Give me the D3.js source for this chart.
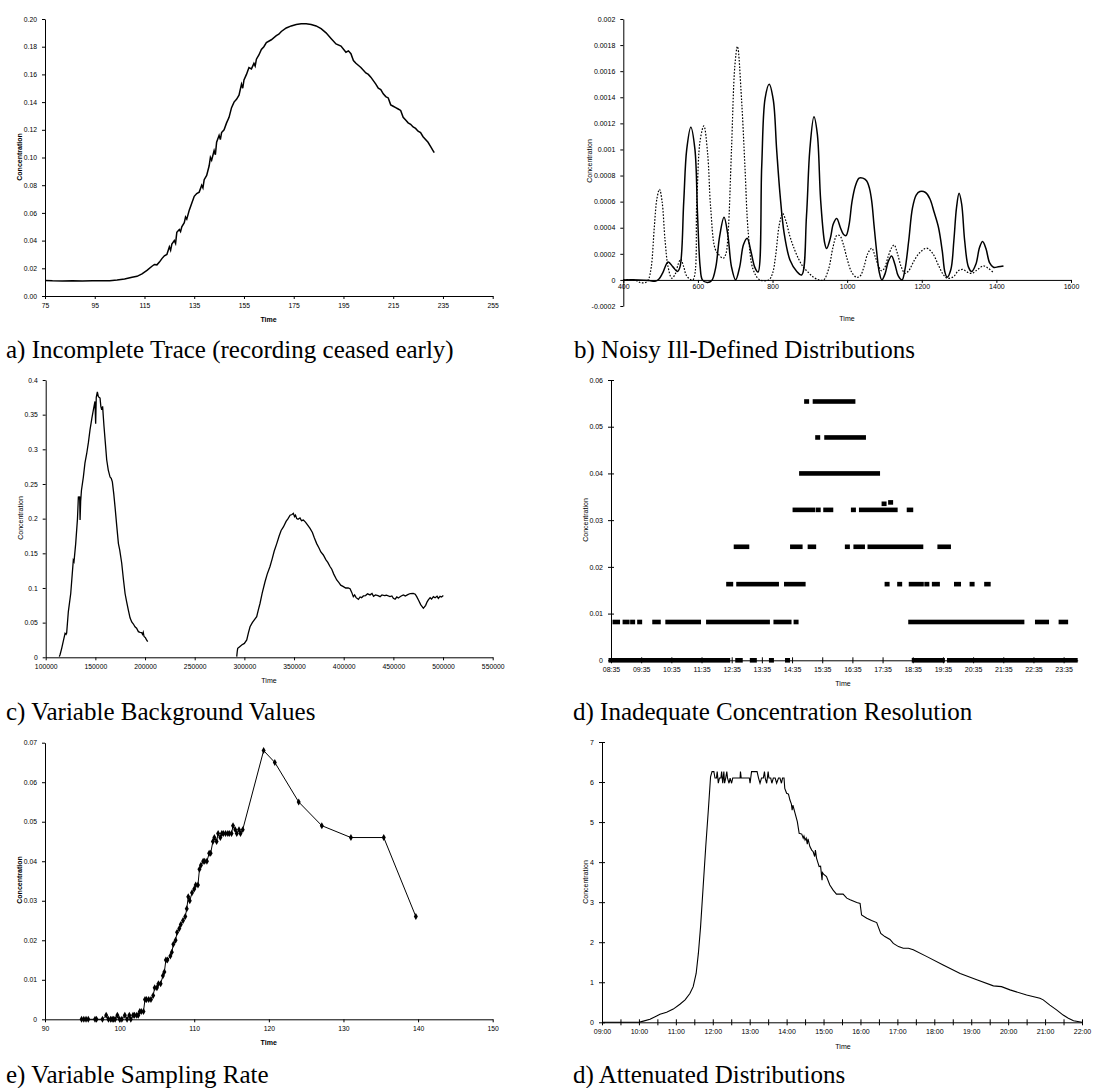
<!DOCTYPE html>
<html><head><meta charset="utf-8">
<script src="https://cdn.jsdelivr.net/npm/d3@7"></script>
<style>body{margin:0;background:#fff}svg{display:block}</style>
</head><body><script>
// ---------- DATA ----------
const captions = ["a) Incomplete Trace (recording ceased early)","b) Noisy Ill-Defined Distributions","c) Variable Background Values","d) Inadequate Concentration Resolution","e) Variable Sampling Rate","d) Attenuated Distributions"];

// a) Incomplete trace
const aTicksX = [75,95,115,135,155,175,195,215,235,255];
const aTicksY = [0,0.02,0.04,0.06,0.08,0.10,0.12,0.14,0.16,0.18,0.20];
const aData = [[75,0.0112],[78,0.0110],[82,0.0109],[86,0.0110],[90,0.0109],[94,0.0110],[98,0.0111],[101,0.0111],[104,0.0115],[107,0.0122],[110,0.0135],[112,0.0142],[114,0.0160],[116,0.0185],[118,0.0215],[119,0.0228],[120,0.0225],[121,0.0245],[122,0.0270],[123,0.0290],[124,0.0300],[125,0.0355],[125.5,0.0330],[126,0.0375],[127,0.0400],[127.5,0.0380],[128,0.0460],[129,0.0480],[129.5,0.0465],[130,0.0500],[131,0.0530],[131.5,0.0570],[132,0.0555],[133,0.0620],[134,0.0670],[135,0.0720],[136,0.0740],[137,0.0750],[138,0.0800],[138.5,0.0780],[139,0.0840],[140,0.0870],[141,0.0940],[141.5,0.1000],[142,0.0980],[143,0.1050],[143.5,0.1020],[144,0.1110],[145,0.1160],[145.5,0.1130],[146,0.1180],[147,0.1200],[148,0.1250],[149,0.1290],[150,0.1360],[151,0.1400],[152,0.1420],[153,0.1450],[154,0.1530],[154.5,0.1500],[155,0.1560],[156,0.1600],[157,0.1650],[158,0.1640],[159,0.1680],[159.5,0.1660],[160,0.1710],[161,0.1740],[162,0.1780],[163,0.1800],[164,0.1830],[166,0.1850],[168,0.1880],[169,0.1890],[170,0.1910],[172,0.1935],[174,0.1950],[176,0.1960],[178,0.1965],[180,0.1965],[182,0.1960],[184,0.1950],[186,0.1930],[188,0.1900],[190,0.1860],[192,0.1820],[194,0.1805],[196,0.1760],[197,0.1770],[198,0.1750],[199,0.1700],[200,0.1680],[202,0.1650],[204,0.1610],[205,0.1600],[206,0.1580],[208,0.1530],[209,0.1500],[210,0.1490],[211,0.1460],[212,0.1440],[213,0.1430],[214,0.1380],[215,0.1370],[216,0.1360],[217,0.1350],[218,0.1340],[219,0.1290],[220,0.1270],[221,0.1250],[222,0.1240],[223,0.1220],[224,0.1210],[225,0.1190],[226,0.1180],[227,0.1150],[228,0.1130],[229,0.1110],[230,0.1080],[231,0.1050],[231.5,0.1035]];

// b) Noisy ill-defined distributions
const bTicksX = [400,600,800,1000,1200,1400,1600];
const bTicksY = [-0.0002,0,0.0002,0.0004,0.0006,0.0008,0.001,0.0012,0.0014,0.0016,0.0018,0.002];
const bSolid = [[400,0],[440,0],[470,-0.000005],[485,-0.00001],[495,0.000005],[505,0.00005],[520,0.000138],[533,0.0001],[545,0.000064],[552,0.0001],[562,0.0006],[570,0.001],[581,0.00117],[592,0.001],[599,0.0005],[606,0.0001],[612,0],[625,-0.00002],[637,-0.000005],[648,0.0001],[658,0.00033],[670,0.00048],[680,0.00035],[690,0.0001],[701,0],[712,0.0001],[722,0.00027],[732,0.00032],[742,0.00022],[752,0.0001],[761,0.00006],[771,0.00087],[780,0.00139],[791,0.0015],[802,0.00138],[811,0.001],[820,0.00066],[831,0.00036],[847,0.00015],[865,0.000064],[878,0.000038],[891,0.00049],[900,0.001],[911,0.00125],[920,0.00112],[929,0.00061],[940,0.00028],[945,0.00024],[955,0.00032],[963,0.00043],[972,0.00047],[982,0.0004],[990,0.00035],[997,0.00034],[1005,0.00042],[1013,0.0006],[1022,0.00072],[1032,0.00078],[1042,0.00078],[1052,0.00076],[1060,0.0007],[1066,0.0006],[1072,0.00042],[1079,0.00022],[1086,0.00006],[1093,0],[1102,0.00005],[1110,0.00014],[1119,0.000184],[1128,0.00012],[1137,0.00003],[1147,0],[1155,0.00008],[1165,0.0003],[1175,0.00055],[1185,0.00065],[1195,0.000677],[1210,0.00067],[1222,0.00062],[1233,0.00052],[1245,0.0004],[1255,0.00022],[1262,0.00006],[1268,0.00002],[1278,0.00008],[1286,0.0003],[1293,0.00055],[1300,0.000664],[1307,0.00058],[1315,0.0003],[1325,0.0001],[1334,0.000064],[1345,0.00012],[1355,0.00025],[1363,0.000294],[1372,0.00024],[1382,0.00013],[1392,0.000097],[1405,0.0001],[1419,0.000107]];
const bDotted = [[400,0],[430,0],[445,-0.00002],[460,-0.00002],[467,0],[475,0.0001],[483,0.0004],[490,0.00062],[497,0.000695],[504,0.0006],[512,0.0003],[520,0.0001],[530,0.000013],[540,0.00005],[547,0.00012],[554,0.000158],[562,0.0001],[570,0.00003],[586,0],[597,0.00061],[606,0.00107],[616,0.00118],[626,0.00097],[634,0.00056],[646,0.00024],[657,0.00019],[668,0.000166],[675,0.0002],[681,0.00036],[690,0.001],[699,0.00164],[706,0.00179],[717,0.00138],[726,0.00087],[735,0.00036],[748,0.00008],[766,0],[790,0],[800,0.00005],[808,0.00018],[818,0.00042],[827,0.00051],[836,0.00045],[846,0.00034],[856,0.000255],[870,0.00016],[882,0.0001],[895,0.00006],[910,0.00002],[925,0],[937,0],[950,0.00008],[962,0.00025],[972,0.00034],[980,0.00034],[990,0.00027],[1000,0.00016],[1012,0.00006],[1025,0.00002],[1035,0.00003],[1045,0.0001],[1055,0.0002],[1066,0.000243],[1075,0.00018],[1085,0.0001],[1092,0.00007],[1100,0.00009],[1110,0.00018],[1120,0.00025],[1126,0.000268],[1135,0.0002],[1145,0.0001],[1155,0.00005],[1165,0.00007],[1180,0.00015],[1195,0.00021],[1213,0.000243],[1230,0.0002],[1245,0.00011],[1258,0.00004],[1268,0.000013],[1285,0.000025],[1298,0.00007],[1310,0.00008],[1322,0.00006],[1334,0.00005],[1350,0.00008],[1365,0.000107],[1378,0.00009],[1392,0.000056]];

// c) Variable background values
const cTicksX = [100000,150000,200000,250000,300000,350000,400000,450000,500000,550000];
const cTicksY = [0,0.05,0.1,0.15,0.2,0.25,0.3,0.35,0.4];
const cTrace1 = [[113700,0.001],[114500,0.004],[116100,0.013],[118000,0.025],[119500,0.0346],[120500,0.033],[121100,0.035],[122800,0.066],[125200,0.092],[127800,0.14],[128500,0.138],[130200,0.164],[132000,0.2],[132900,0.232],[133600,0.228],[134200,0.232],[134600,0.198],[135200,0.225],[136000,0.241],[137900,0.26],[139500,0.28],[141300,0.294],[143000,0.31],[144600,0.328],[146500,0.345],[148000,0.357],[149600,0.369],[150300,0.337],[150900,0.375],[152000,0.383],[153000,0.376],[154700,0.374],[155500,0.362],[156400,0.357],[157300,0.362],[158000,0.347],[158700,0.333],[160000,0.31],[161400,0.285],[163000,0.27],[164800,0.26],[166000,0.258],[167100,0.253],[168500,0.236],[169800,0.217],[171500,0.19],[173200,0.164],[174500,0.155],[176500,0.136],[178200,0.113],[179900,0.092],[181500,0.08],[183200,0.068],[184900,0.057],[186600,0.051],[188300,0.048],[189900,0.044],[191500,0.042],[193300,0.037],[195000,0.036],[196600,0.0356],[197500,0.033],[198200,0.036],[199000,0.030],[200500,0.028],[201500,0.025],[202700,0.0226]];
const cTrace2 = [[292300,0.001],[292800,0.008],[293300,0.013],[295000,0.015],[297300,0.0178],[300000,0.02],[302400,0.025],[304000,0.035],[305700,0.044],[308000,0.05],[310000,0.054],[312400,0.0587],[314000,0.068],[315800,0.078],[318000,0.093],[320800,0.109],[323000,0.12],[325800,0.131],[328000,0.142],[330000,0.153],[332600,0.164],[335000,0.175],[337000,0.183],[339300,0.188],[342000,0.196],[344000,0.2],[346000,0.205],[348000,0.206],[349300,0.2077],[350500,0.203],[351500,0.205],[352700,0.2],[354000,0.199],[356000,0.201],[357500,0.197],[359400,0.198],[361500,0.195],[363000,0.192],[366100,0.186],[368500,0.18],[370500,0.172],[372800,0.164],[375000,0.158],[377000,0.152],[379500,0.1476],[382000,0.141],[384000,0.137],[386200,0.131],[388000,0.127],[390000,0.12],[393000,0.1115],[395000,0.108],[397000,0.104],[399700,0.102],[402000,0.1],[404500,0.1],[406400,0.099],[408000,0.094],[409700,0.0875],[411000,0.09],[412500,0.086],[414800,0.0837],[416500,0.087],[418000,0.086],[419800,0.0885],[422000,0.089],[424000,0.0915],[426500,0.09],[428500,0.092],[430000,0.088],[432000,0.09],[434500,0.089],[436600,0.0875],[438500,0.09],[441000,0.089],[443000,0.0895],[446600,0.0875],[448500,0.0885],[450000,0.085],[451700,0.0837],[453500,0.087],[455000,0.0855],[457500,0.088],[460000,0.09],[462000,0.0885],[464500,0.0905],[467000,0.092],[470000,0.0923],[472000,0.091],[473500,0.0875],[475500,0.082],[477500,0.076],[480200,0.0707],[482500,0.075],[484000,0.08],[485200,0.0827],[487000,0.086],[488500,0.084],[490300,0.0875],[492000,0.086],[494000,0.088],[495300,0.085],[497000,0.088],[498500,0.087],[500300,0.089]];

// d) Inadequate concentration resolution: runs of consecutive samples [first, last, level]
const dTickLabels = ["08:35","09:35","10:35","11:35","12:35","13:35","14:35","15:35","16:35","17:35","18:35","19:35","20:35","21:35","22:35","23:35"];
const dTicksY = [0,0.01,0.02,0.03,0.04,0.05,0.06];
const dAxisEnd = "24:03";
const dRuns = [
["08:35","12:27",0],["12:47","12:52",0],["13:16","13:20",0],["13:54","13:54",0],["14:26","14:26",0],["18:38","19:34",0],["19:48","23:58",0],
["08:43","08:48",0.0082],["09:03","09:07",0.0082],["09:18","09:18",0.0082],["09:32","09:32",0.0082],["10:02","10:09",0.0082],["10:28","11:29",0.0082],["11:49","13:46",0.0082],["14:03","14:29",0.0082],["14:43","14:43",0.0082],["18:31","22:12",0.0082],["22:43","23:01",0.0082],["23:30","23:39",0.0082],
["12:29","12:33",0.0163],["12:49","14:04",0.0163],["14:24","14:57",0.0163],["17:44","17:44",0.0163],["18:09","18:09",0.0163],["18:32","18:52",0.0163],["19:03","19:03",0.0163],["19:18","19:24",0.0163],["20:02","20:06",0.0163],["20:33","20:33",0.0163],["21:02","21:05",0.0163],
["12:44","13:05",0.0243],["14:36","14:51",0.0243],["15:11","15:18",0.0243],["16:25","16:25",0.0243],["16:42","16:55",0.0243],["17:10","18:51",0.0243],["19:29","19:46",0.0243],
["14:41","15:16",0.0322],["15:27","15:27",0.0322],["15:42","15:52",0.0322],["16:37","16:37",0.0322],["16:53","18:00",0.0322],["18:28","18:31",0.0322],["17:38","17:38",0.0335],["17:51","17:51",0.0338],
["14:54","17:25",0.040],
["15:26","15:26",0.0477],["15:44","16:57",0.0477],
["15:04","15:04",0.0554],["15:21","16:36",0.0554]
];

// e) Variable sampling rate
const eTicksX = [90,100,110,120,130,140,150];
const eTicksY = [0,0.01,0.02,0.03,0.04,0.05,0.06,0.07];
const eData = [[94.9,0],[95.2,0],[95.5,0],[95.8,0],[96.7,0],[96.9,0],[97.7,0],[98.2,0.001],[98.5,0],[98.8,0],[99.0,0],[99.2,0],[99.4,0],[99.7,0.001],[100.0,0],[100.3,0],[100.7,0.001],[101.0,0],[101.3,0.001],[101.5,0],[101.8,0.001],[102.0,0.001],[102.3,0.001],[102.5,0.001],[102.7,0.002],[102.9,0.002],[103.2,0.002],[103.4,0.005],[103.6,0.005],[103.9,0.005],[104.2,0.005],[104.5,0.006],[104.7,0.008],[105.0,0.008],[105.2,0.009],[105.5,0.009],[105.8,0.011],[106.0,0.012],[106.2,0.015],[106.4,0.015],[106.8,0.016],[107.0,0.017],[107.2,0.019],[107.5,0.02],[107.7,0.022],[108.0,0.023],[108.2,0.024],[108.5,0.025],[108.8,0.026],[109.0,0.028],[109.2,0.031],[109.4,0.03],[109.7,0.032],[110.0,0.033],[110.2,0.034],[110.5,0.034],[110.7,0.038],[110.9,0.039],[111.2,0.04],[111.4,0.04],[111.7,0.04],[112.0,0.042],[112.2,0.042],[112.5,0.045],[112.7,0.046],[113.0,0.045],[113.2,0.047],[113.5,0.046],[113.7,0.047],[113.9,0.047],[114.2,0.047],[114.5,0.047],[114.7,0.047],[115.0,0.047],[115.2,0.049],[115.5,0.048],[115.7,0.047],[116.0,0.048],[116.2,0.047],[116.5,0.048],[119.3,0.068],[120.8,0.065],[124.0,0.055],[127.1,0.049],[131.0,0.046],[135.4,0.046],[139.7,0.026]];

// f) Attenuated distributions (time in decimal hours)
const fTickLabels = ["09:00","10:00","11:00","12:00","13:00","14:00","15:00","16:00","17:00","18:00","19:00","20:00","21:00","22:00"];
const fTicksY = [0,1,2,3,4,5,6,7];
const fData = [[9,0],[10,0],[10.12,0.03],[10.3,0.075],[10.48,0.158],[10.57,0.2],[10.75,0.25],[10.93,0.33],[11.11,0.45],[11.25,0.56],[11.38,0.72],[11.47,0.89],[11.55,1.22],[11.61,1.72],[11.67,2.39],[11.74,3.39],[11.81,4.39],[11.88,5.3],[11.94,6.13],[11.98,6.26],[12.03,6.26],[12.06,6.1],[12.1,6.1],[12.12,6.26],[12.15,5.97],[12.18,6.1],[12.22,6.1],[12.24,6.26],[12.27,5.97],[12.3,6.26],[12.32,5.97],[12.35,6.1],[12.38,6.26],[12.4,6.1],[12.44,5.97],[12.47,6.1],[12.51,5.97],[12.54,6.1],[12.74,6.1],[12.75,6.26],[12.77,6.1],[12.99,6.1],[13.01,5.97],[13.05,6.26],[13.2,6.26],[13.24,6.1],[13.28,5.97],[13.32,6.1],[13.37,6.1],[13.4,6.26],[13.42,6.1],[13.46,5.97],[13.5,6.26],[13.52,6.1],[13.57,6.1],[13.6,5.97],[13.64,6.1],[13.69,6.1],[13.73,5.97],[13.78,6.1],[13.82,6.1],[13.86,5.97],[13.89,6.1],[13.93,6.1],[13.95,5.84],[14.0,5.72],[14.05,5.7],[14.09,5.55],[14.13,5.45],[14.15,5.3],[14.17,5.42],[14.23,5.22],[14.29,5.01],[14.34,4.72],[14.41,4.7],[14.45,4.6],[14.47,4.65],[14.5,4.55],[14.53,4.6],[14.56,4.45],[14.58,4.58],[14.63,4.39],[14.68,4.3],[14.72,4.26],[14.76,4.14],[14.78,4.3],[14.81,4.1],[14.86,3.95],[14.88,3.89],[14.92,3.9],[14.96,3.55],[14.97,3.74],[15.0,3.7],[15.08,3.64],[15.17,3.43],[15.26,3.3],[15.35,3.2],[15.53,3.2],[15.63,3.1],[15.72,3.06],[15.9,2.99],[15.99,2.97],[16.03,2.68],[16.17,2.6],[16.3,2.54],[16.44,2.49],[16.48,2.39],[16.55,2.22],[16.66,2.14],[16.8,2.07],[16.89,1.97],[17.03,1.89],[17.16,1.85],[17.3,1.85],[17.43,1.81],[17.8,1.64],[18.24,1.43],[18.7,1.22],[19.15,1.06],[19.6,0.91],[19.82,0.89],[20.05,0.81],[20.5,0.68],[20.86,0.6],[20.95,0.56],[21.13,0.43],[21.31,0.31],[21.49,0.18],[21.63,0.1],[21.77,0.04],[22,0]];

// ---------- DRAWING ----------
const SANS = "'Liberation Sans', Arial, sans-serif";
const SERIF = "'Liberation Serif', 'Times New Roman', serif";
const svg = d3.select("body").append("svg").attr("width",1112).attr("height",1088);
svg.append("rect").attr("width",1112).attr("height",1088).attr("fill","#fff");

function panel(o){
  const x = d3.scaleLinear().domain(o.xd).range([o.l,o.r]);
  const y = d3.scaleLinear().domain(o.yd).range([o.b,o.t]);
  const g = svg.append("g");
  const ya = g.append("g").attr("transform",`translate(${o.l},0)`)
    .call(d3.axisLeft(y).tickValues(o.yt).tickFormat(o.yf).tickSize(3).tickSizeOuter(0).tickPadding(o.ypad||5));
  const xa = g.append("g").attr("transform",`translate(0,${y(o.xAt!==undefined?o.xAt:o.yd[0])})`)
    .call(d3.axisBottom(x).tickValues(o.xt).tickFormat(o.xf).tickSize(3).tickSizeOuter(0).tickPadding(o.xpad!==undefined?o.xpad:4));
  if(o.cross){ ya.selectAll(".tick line").attr("x1",3); xa.selectAll(".tick line").attr("y1",-3); }
  [xa,ya].forEach(a=>{
    a.attr("font-family",SANS).attr("font-size",o.fs||7);
    a.selectAll("text").attr("fill","#000");
    a.select(".domain").attr("stroke","#000").attr("stroke-width",1);
    a.selectAll(".tick line").attr("stroke","#000");
  });
  g.append("text").attr("x",o.tx).attr("y",o.ty).attr("text-anchor","middle")
    .attr("font-family",SANS).attr("font-size",7).attr("font-weight",o.bold?"bold":"normal").text("Time");
  g.append("text").attr("transform",`translate(${o.cx},${o.cy}) rotate(-90)`).attr("text-anchor","middle")
    .attr("font-family",SANS).attr("font-size",7).attr("font-weight",o.bold?"bold":"normal").text("Concentration");
  return {x,y,g};
}
function caption(txt,x,y){
  svg.append("text").attr("x",x).attr("y",y).attr("font-family",SERIF).attr("font-size",25).attr("fill","#000").text(txt);
}

// a
{
  const p = panel({l:45,r:492.7,t:19,b:296,xd:[75,255],yd:[0,0.2],xt:aTicksX,yt:aTicksY,xf:d=>d,yf:d3.format(".2f"),
    tx:268.5,ty:322,cx:21.8,cy:157,bold:true,fs:6.8});
  p.g.append("path").datum(aData).attr("fill","none").attr("stroke","#000").attr("stroke-width",1.5)
    .attr("d",d3.line().x(d=>p.x(d[0])).y(d=>p.y(d[1])));
}
// b
{
  const p = panel({l:623.3,r:1071,t:19,b:306,xd:[400,1600],yd:[-0.0002,0.002],xt:bTicksX,yt:bTicksY,xf:d=>d,yf:d=>String(d),
    xAt:0,xpad:1,tx:847,ty:321,cx:591.8,cy:161,fs:7});
  const line = d3.line().x(d=>p.x(d[0])).y(d=>p.y(d[1])).curve(d3.curveCatmullRom.alpha(0.5));
  p.g.append("path").datum(bDotted).attr("fill","none").attr("stroke","#000").attr("stroke-width",1.2)
    .attr("stroke-dasharray","1.6,1.6").attr("d",line);
  p.g.append("path").datum(bSolid).attr("fill","none").attr("stroke","#000").attr("stroke-width",1.5).attr("d",line);
}
// c
{
  const p = panel({l:45.7,r:492.7,t:380,b:657.3,xd:[100000,550000],yd:[0,0.4],xt:cTicksX,yt:cTicksY,xf:d=>d,yf:d=>String(d),
    tx:269,ty:682.5,cx:22.5,cy:518,fs:6.8});
  const line = d3.line().x(d=>p.x(d[0])).y(d=>p.y(d[1]));
  [cTrace1,cTrace2].forEach(tr=>p.g.append("path").datum(tr).attr("fill","none").attr("stroke","#000").attr("stroke-width",1.3).attr("d",line));
}
// d
{
  const mins = s=>{const [h,m]=s.split(":").map(Number); return h*60+m-515;};
  const p = panel({l:611,r:1077.7,t:380,b:660.3,xd:[0,mins(dAxisEnd)],yd:[0,0.06],xt:dTickLabels.map(mins),yt:dTicksY,
    xf:(d,i)=>dTickLabels[i],yf:d=>String(d),tx:843,ty:686,cx:587.5,cy:520,cross:true,fs:7});
  p.g.selectAll("rect.run").data(dRuns).join("rect").attr("class","run")
    .attr("x",d=>p.x(mins(d[0]))-2.5).attr("width",d=>p.x(mins(d[1]))-p.x(mins(d[0]))+5)
    .attr("y",d=>p.y(d[2])-2.3).attr("height",4.6).attr("fill","#000");
}
// e
{
  const p = panel({l:45,r:492.7,t:742.7,b:1019.3,xd:[90,150],yd:[0,0.07],xt:eTicksX,yt:eTicksY,xf:d=>d,yf:d=>String(d),
    tx:268.7,ty:1045,cx:21.8,cy:880,bold:true,fs:6.8});
  p.g.append("path").datum(eData).attr("fill","none").attr("stroke","#000").attr("stroke-width",1)
    .attr("d",d3.line().x(d=>p.x(d[0])).y(d=>p.y(d[1])));
  p.g.selectAll("path.mk").data(eData).join("path").attr("class","mk")
    .attr("transform",d=>`translate(${p.x(d[0])},${p.y(d[1])})`).attr("d",d3.symbol(d3.symbolDiamond,14)).attr("fill","#000");
}
// f
{
  const hrs = s=>{const [h,m]=s.split(":").map(Number); return h+m/60;};
  const fTickVals = d3.range(9,22.01,0.5);
  const p = panel({l:602,r:1082,t:742,b:1022.3,xd:[9,22],yd:[0,7],xt:fTickVals,yt:fTicksY,
    xf:d=>{const i=fTickLabels.findIndex(s=>Math.abs(hrs(s)-d)<1e-6); return i>=0?fTickLabels[i]:"";},
    yf:d=>String(d),tx:843,ty:1048.5,cx:587.5,cy:882,cross:true,fs:7});
  p.g.append("path").datum(fData).attr("fill","none").attr("stroke","#000").attr("stroke-width",1.1)
    .attr("d",d3.line().x(d=>p.x(d[0])).y(d=>p.y(d[1])));
}
// captions
caption(captions[0],6,358);
caption(captions[1],574,358);
caption(captions[2],6,720);
caption(captions[3],573,720);
caption(captions[4],6,1083);
caption(captions[5],573,1083);
</script></body></html>
